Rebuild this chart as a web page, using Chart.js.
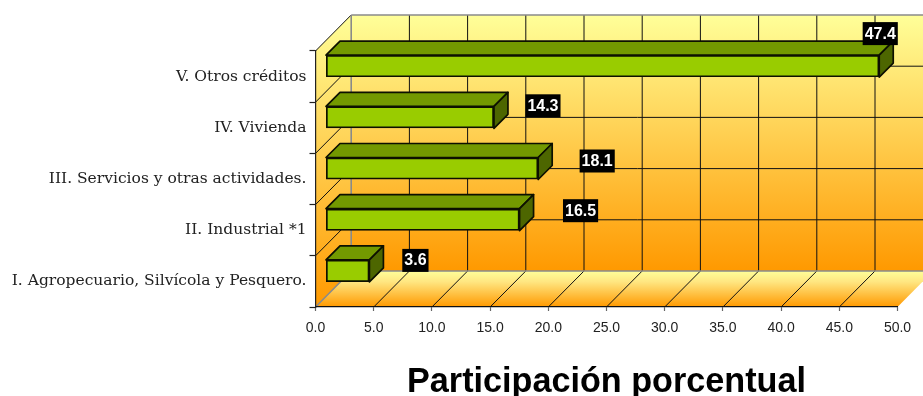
<!DOCTYPE html>
<html lang="es">
<head>
<meta charset="utf-8">
<title>Participación porcentual</title>
<script src="https://cdn.jsdelivr.net/npm/chart.js@4/dist/chart.umd.min.js"></script>
<style>
  html, body { margin: 0; padding: 0; background: #fff; }
  canvas { display: block; }
</style>
</head>
<body>
<canvas id="chart" width="923" height="396"></canvas>
<script>
const categories = [
  "V. Otros créditos",
  "IV. Vivienda",
  "III. Servicios y otras actividades.",
  "II. Industrial *1",
  "I. Agropecuario, Silvícola y Pesquero."
];
const participation = [47.4, 14.3, 18.1, 16.5, 3.6];
const axisTitle = "Participación porcentual";

// Projection of the 3D box: how far the back wall sits from the front plane,
// where the bars sit inside that depth, and how deep they are.
const WALL_DX = 35.7, WALL_DY = 36;
const BAR_DX = 11, BAR_DY = -10.5, BAR_DEPTH = 14;
// Value tags float away from the bars, each with its own shift from the bar end.
const TAG_SHIFT = [[2, -43], [50, -22], [60, -18], [62, -19.5], [47, -21]];

function wallGradient(ctx, y0, y1) {
  const g = ctx.createLinearGradient(0, y0, 0, y1);
  g.addColorStop(0, "#FFFF99");
  g.addColorStop(1, "#FF9900");
  return g;
}

function poly(ctx, pts) {
  ctx.beginPath();
  pts.forEach((p, i) => i ? ctx.lineTo(p[0], p[1]) : ctx.moveTo(p[0], p[1]));
  ctx.closePath();
}

const box3d = {
  id: "box3d",
  beforeDraw(chart) {
    const { ctx, scales: { x, y }, chartArea: a } = chart;
    const dx = WALL_DX, dy = WALL_DY;
    const xTicks = x.ticks.map(t => x.getPixelForValue(t.value));
    const yEdges = [a.top];
    for (let i = 0; i < categories.length; i++) {
      yEdges.push(a.top + (a.bottom - a.top) * (i + 1) / categories.length);
    }
    ctx.save();

    // Back wall
    ctx.fillStyle = wallGradient(ctx, a.top - dy, a.bottom - dy);
    ctx.fillRect(a.left + dx, a.top - dy, a.right - a.left, a.bottom - a.top);

    // Side wall
    ctx.fillStyle = wallGradient(ctx, a.top - dy, a.bottom);
    poly(ctx, [[a.left, a.top], [a.left + dx, a.top - dy], [a.left + dx, a.bottom - dy], [a.left, a.bottom]]);
    ctx.fill();

    // Floor
    const floor = ctx.createLinearGradient(0, a.bottom - dy, 0, a.bottom);
    floor.addColorStop(0, "#FFFF99");
    floor.addColorStop(0.3, "#FFE681");
    floor.addColorStop(1, "#FF9900");
    ctx.fillStyle = floor;
    poly(ctx, [[a.left, a.bottom], [a.left + dx, a.bottom - dy], [a.right + dx, a.bottom - dy], [a.right, a.bottom]]);
    ctx.fill();

    // Grid on the back wall
    ctx.lineWidth = 1;
    ctx.strokeStyle = "#111";
    ctx.beginPath();
    xTicks.forEach((px, i) => {
      if (i === 0) return;
      ctx.moveTo(px + dx, a.top - dy);
      ctx.lineTo(px + dx, a.bottom - dy);
    });
    yEdges.slice(1, -1).forEach(py => {
      ctx.moveTo(a.left + dx, py - dy);
      ctx.lineTo(a.right + dx, py - dy);
    });
    // Grid on the side wall and the floor
    yEdges.slice(0, -1).forEach(py => {
      ctx.moveTo(a.left, py);
      ctx.lineTo(a.left + dx, py - dy);
    });
    xTicks.slice(1, -1).forEach(px => {
      ctx.moveTo(px, a.bottom);
      ctx.lineTo(px + dx, a.bottom - dy);
    });
    ctx.stroke();

    // Grey edges where the walls meet
    ctx.strokeStyle = "#8A8A8A";
    ctx.lineWidth = 1.6;
    ctx.beginPath();
    ctx.moveTo(a.left + dx, a.top - dy);
    ctx.lineTo(a.right + dx, a.top - dy);
    ctx.moveTo(a.left + dx, a.top - dy);
    ctx.lineTo(a.left + dx, a.bottom - dy);
    ctx.moveTo(a.left + dx, a.bottom - dy);
    ctx.lineTo(a.right + dx, a.bottom - dy);
    ctx.moveTo(a.left, a.bottom);
    ctx.lineTo(a.left + dx, a.bottom - dy);
    ctx.stroke();
    ctx.restore();
  },
  beforeDatasetsDraw(chart) {
    const { ctx } = chart;
    ctx.save();
    ctx.translate(BAR_DX, BAR_DY);
    const d = BAR_DEPTH;
    chart.getDatasetMeta(0).data.forEach(bar => {
      const top = bar.y - bar.height / 2 - 1;
      const bottom = bar.y + bar.height / 2 + 1;
      const left = bar.base - 1;
      const right = bar.x + 1;
      ctx.lineWidth = 1.7;
      ctx.strokeStyle = "#0D1000";
      ctx.lineJoin = "round";
      ctx.fillStyle = "#739900";
      poly(ctx, [[left, top], [right, top], [right + d, top - d], [left + d, top - d]]);
      ctx.fill();
      ctx.stroke();
      ctx.fillStyle = "#4D6600";
      poly(ctx, [[right, top], [right + d, top - d], [right + d, bottom - d], [right, bottom]]);
      ctx.fill();
      ctx.stroke();
    });
  },
  afterDatasetsDraw(chart) {
    const { ctx } = chart;
    ctx.restore();

    // Value tags
    ctx.save();
    ctx.font = "bold 16px 'Liberation Sans', Arial, sans-serif";
    ctx.textAlign = "center";
    ctx.textBaseline = "middle";
    chart.getDatasetMeta(0).data.forEach((bar, i) => {
      const text = participation[i].toFixed(1);
      const cx = bar.x + BAR_DX + TAG_SHIFT[i][0];
      const cy = bar.y + TAG_SHIFT[i][1];
      const w = ctx.measureText(text).width + 4;
      ctx.fillStyle = "#000";
      ctx.fillRect(cx - w / 2, cy - 11.5, w, 23);
      ctx.fillStyle = "#fff";
      ctx.fillText(text, cx, cy + 0.5);
    });
    ctx.restore();
  }
};

new Chart(document.getElementById("chart"), {
  type: "bar",
  plugins: [box3d],
  data: {
    labels: categories,
    datasets: [{
      data: participation,
      backgroundColor: "#99CC00",
      borderColor: "#0D1000",
      borderWidth: 1.7,
      borderSkipped: false,
      inflateAmount: 1,
      barThickness: 20,
      clip: false
    }]
  },
  options: {
    indexAxis: "y",
    responsive: false,
    animation: false,
    devicePixelRatio: 1,
    layout: { padding: { top: 51, right: 25.5, left: 0, bottom: 0 } },
    plugins: { legend: { display: false }, title: { display: false }, tooltip: { enabled: false } },
    scales: {
      x: {
        min: 0,
        max: 50,
        afterFit(s) { s.height = 89; },
        border: { color: "#111", width: 1.2 },
        grid: { drawOnChartArea: false, color: "#666", tickLength: 4, tickWidth: 1.2 },
        ticks: {
          stepSize: 5,
          autoSkip: false,
          maxRotation: 0,
          padding: 9,
          color: "#222",
          font: { family: "'Liberation Sans', Arial, sans-serif", size: 14 },
          callback: v => Number(v).toFixed(1)
        },
        title: {
          display: true,
          text: axisTitle,
          color: "#000",
          padding: { top: 0, bottom: -4 },
          font: { family: "'Liberation Sans', Arial, sans-serif", size: 34.2, weight: "bold", lineHeight: 1 }
        }
      },
      y: {
        afterFit(s) { s.width = 315.5; },
        border: { color: "#222", width: 1.2 },
        grid: { drawOnChartArea: false, color: "#222", tickLength: 6, tickWidth: 1.2 },
        ticks: {
          padding: 3,
          color: "#222",
          autoSkip: false,
          font: { family: "'DejaVu Serif', serif", size: 15.5 }
        }
      }
    }
  }
});
</script>
</body>
</html>
